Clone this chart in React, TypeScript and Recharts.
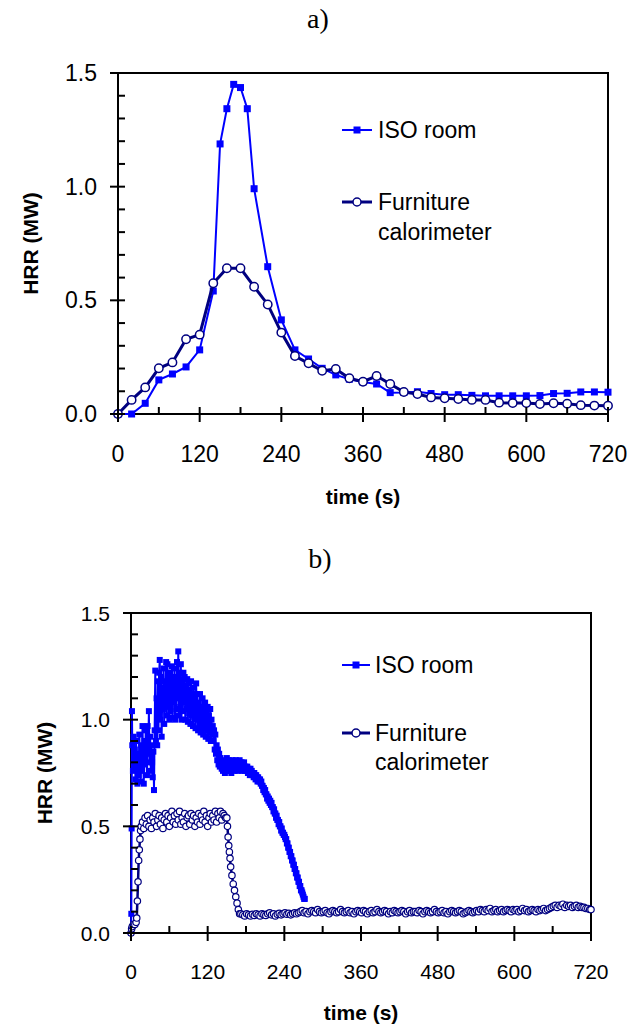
import React from 'react';
import { ComposedChart, Scatter, XAxis, YAxis, ReferenceArea, Legend, Label } from 'recharts';

const FONT = '"Liberation Sans", Arial, sans-serif';
const ISO_BLUE = '#0000ff';
const NAVY = '#000080';

const xTicks = [0, 60, 120, 180, 240, 300, 360, 420, 480, 540, 600, 660, 720];
const yTicks = [0, 0.1, 0.2, 0.3, 0.4, 0.5, 0.6, 0.7, 0.8, 0.9, 1.0, 1.1, 1.2, 1.3, 1.4, 1.5];

// ---- a) ----
const isoTimeA = [0, 20, 40, 60, 80, 100, 120, 140, 150, 160, 170, 180, 190, 200, 220, 240, 260, 280, 300, 320,
  340, 360, 380, 400, 420, 440, 460, 480, 500, 520, 540, 560, 580, 600, 620, 640, 660, 680, 700, 720];
const isoHrrA = [0, 0, 0.047, 0.15, 0.176, 0.207, 0.282, 0.541, 1.188, 1.343, 1.45, 1.436, 1.343, 0.991, 0.648, 0.414,
  0.282, 0.242, 0.201, 0.172, 0.153, 0.141, 0.132, 0.094, 0.095, 0.098, 0.09, 0.085, 0.085, 0.082, 0.08, 0.08, 0.08,
  0.08, 0.081, 0.09, 0.091, 0.097, 0.097, 0.096];

const furnTimeA = [0, 20, 40, 60, 80, 100, 120, 140, 160, 180, 200, 220, 240, 260, 280, 300, 320, 340, 360, 380,
  400, 420, 440, 460, 480, 500, 520, 540, 560, 580, 600, 620, 640, 660, 680, 700, 720];
const furnHrrA = [0, 0.062, 0.117, 0.201, 0.227, 0.329, 0.349, 0.575, 0.641, 0.641, 0.56, 0.482, 0.358, 0.255, 0.223,
  0.19, 0.198, 0.157, 0.142, 0.167, 0.132, 0.097, 0.088, 0.073, 0.069, 0.066, 0.062, 0.062, 0.05, 0.048, 0.048, 0.044,
  0.047, 0.045, 0.039, 0.037, 0.036];

// ---- b) ----
// ISO room: first sub-second samples, then 1 s samples from 2 s to 272 s
const isoStartTimeB = [0, 0.5, 1, 1.5];
const isoStartHrrB = [0, 0.09, 0.49, 1.04];
const isoRestStartB = 2;
const isoRestHrrB = [
  // 2 - 140 s
  0.88, 0.76, 0.92, 0.80, 0.86, 0.72, 0.90, 0.78, 0.70, 0.84, 0.74, 0.93, 0.80, 0.71, 0.88, 0.76, 0.97, 0.82, 0.70,
  0.90, 0.79, 0.95, 0.84, 0.74, 0.97, 0.86, 1.04, 0.80, 0.92, 0.76, 0.88, 0.80, 0.73, 0.85, 0.67, 0.95, 1.23, 0.90,
  1.10, 0.88, 1.18, 0.95, 1.22, 1.28, 1.00, 1.20, 0.92, 1.15, 1.05, 1.24, 0.98, 1.18, 1.08, 1.27, 1.02, 1.26, 1.06,
  1.20, 1.00, 1.22, 1.04, 1.18, 1.25, 1.01, 1.16, 1.08, 1.24, 1.00, 1.20, 1.05, 1.27, 1.10, 1.32, 1.02, 1.22, 1.06,
  1.26, 1.00, 1.18, 1.04, 1.22, 1.08, 1.20, 1.00, 1.16, 1.05, 1.19, 0.99, 1.17, 1.03, 1.14, 0.98, 1.18, 1.02, 1.12,
  0.97, 1.15, 1.01, 1.10, 0.96, 1.17, 1.00, 1.12, 0.95, 1.08, 0.98, 1.12, 0.94, 1.06, 0.96, 1.10, 0.93, 1.05, 0.97,
  1.08, 0.92, 1.04, 0.95, 1.06, 0.91, 1.02, 0.94, 1.05, 0.90, 1.00, 0.93, 0.97, 0.90, 0.95, 0.86, 0.93, 0.84, 0.88,
  0.81, 0.86, 0.79, 0.84, 0.78, 0.82,
  // 141 - 180 s
  0.79, 0.77, 0.80, 0.76, 0.81, 0.78, 0.75, 0.80, 0.77, 0.82, 0.76, 0.79, 0.81, 0.76, 0.78, 0.80, 0.75, 0.79, 0.81,
  0.77, 0.80, 0.76, 0.78, 0.81, 0.77, 0.79, 0.76, 0.80, 0.78, 0.81, 0.77, 0.79, 0.80, 0.76, 0.79, 0.77, 0.80, 0.76,
  0.78, 0.77,
  // 181 - 200 s
  0.76, 0.78, 0.75, 0.77, 0.76, 0.74, 0.77, 0.75, 0.76, 0.74, 0.75, 0.73, 0.75, 0.74, 0.72, 0.74, 0.73, 0.71, 0.73,
  0.72,
  // 201 - 240 s
  0.71, 0.72, 0.70, 0.71, 0.69, 0.69, 0.67, 0.68, 0.66, 0.67, 0.65, 0.65, 0.63, 0.64, 0.62, 0.63, 0.61, 0.62, 0.60,
  0.61, 0.59, 0.59, 0.57, 0.58, 0.56, 0.56, 0.54, 0.55, 0.53, 0.53, 0.51, 0.52, 0.50, 0.50, 0.48, 0.49, 0.47, 0.47,
  0.46, 0.46,
  // 241 - 272 s
  0.45, 0.44, 0.44, 0.42, 0.42, 0.40, 0.40, 0.38, 0.38, 0.36, 0.36, 0.34, 0.34, 0.32, 0.32, 0.30, 0.30, 0.28, 0.28,
  0.26, 0.26, 0.24, 0.24, 0.22, 0.22, 0.20, 0.20, 0.19, 0.18, 0.17, 0.16, 0.16,
];

// furniture calorimeter: ignition rise, plateau (2 s), drop, tail (3 s)
const furnRiseTimeB = [0, 1, 2, 4, 6, 8, 9, 10, 11, 12, 13, 14, 15, 16];
const furnRiseHrrB = [0, 0.02, 0.03, 0.04, 0.04, 0.05, 0.07, 0.15, 0.24, 0.34, 0.39, 0.44, 0.48, 0.50];
const furnPlateauStartB = 18;
const furnPlateauHrrB = [
  0.52, 0.49, 0.54, 0.51, 0.55, 0.50, 0.53, 0.49, 0.54, 0.52, 0.56, 0.50, 0.53, 0.55, 0.51, 0.54, 0.49, 0.53, 0.56,
  0.52, 0.55, 0.50, 0.54, 0.57, 0.52, 0.55, 0.51, 0.56, 0.53, 0.57, 0.51, 0.54, 0.52, 0.56, 0.50, 0.54, 0.55, 0.51,
  0.56, 0.53, 0.55, 0.50, 0.54, 0.52, 0.56, 0.51, 0.55, 0.53, 0.57, 0.52, 0.55, 0.50, 0.54, 0.56, 0.52, 0.55, 0.53,
  0.57, 0.52, 0.56, 0.54, 0.57, 0.53, 0.56, 0.55, 0.54,
];
const furnDropTimeB = [150, 151, 152, 153, 154, 155, 156, 158, 160, 162, 164, 166, 168, 170];
const furnDropHrrB = [0.54, 0.50, 0.45, 0.41, 0.38, 0.35, 0.31, 0.27, 0.23, 0.20, 0.17, 0.14, 0.11, 0.09];
const furnTailStartB = 172;
const furnTailHrrB = [
  0.09, 0.085, 0.08, 0.09, 0.085, 0.08, 0.088, 0.082, 0.09, 0.085, 0.08, 0.09, 0.086, 0.082, 0.09, 0.095, 0.085, 0.09,
  0.08, 0.088, 0.092, 0.085, 0.09, 0.095, 0.088, 0.092, 0.085, 0.09, 0.095, 0.09,
  0.095, 0.10, 0.105, 0.095, 0.10, 0.09, 0.10, 0.105, 0.10, 0.095, 0.11, 0.10, 0.095, 0.10, 0.105, 0.095, 0.09, 0.10,
  0.105, 0.10, 0.095, 0.10, 0.11, 0.10, 0.095, 0.10, 0.105, 0.095, 0.10, 0.09, 0.10, 0.105, 0.10, 0.095, 0.105, 0.10,
  0.09, 0.10, 0.105, 0.095, 0.10, 0.11, 0.10, 0.095, 0.10, 0.105, 0.10, 0.09, 0.10, 0.095, 0.105, 0.10, 0.095, 0.10,
  0.105, 0.10, 0.09, 0.10, 0.105, 0.095, 0.10, 0.10, 0.095, 0.105, 0.10, 0.09, 0.10, 0.105, 0.10, 0.095, 0.10, 0.11,
  0.10, 0.095, 0.10, 0.105, 0.095, 0.10, 0.09, 0.10, 0.105, 0.10, 0.095, 0.10, 0.105, 0.10, 0.09, 0.095, 0.10, 0.105,
  0.10, 0.095, 0.10, 0.105,
  0.10, 0.11, 0.105, 0.10, 0.11, 0.105, 0.115, 0.10, 0.105, 0.11, 0.10, 0.105, 0.11, 0.10, 0.105, 0.11, 0.105, 0.10,
  0.11, 0.105, 0.11, 0.10, 0.105, 0.115, 0.105, 0.11, 0.10, 0.105, 0.11, 0.105, 0.10, 0.11, 0.105, 0.11, 0.115, 0.105,
  0.11, 0.115,
  0.12, 0.125, 0.13, 0.12, 0.13, 0.125, 0.135, 0.12, 0.13, 0.125, 0.13, 0.12, 0.125, 0.13, 0.12, 0.125, 0.12,
  0.12, 0.115, 0.115, 0.11,
];
const furnEndTimeB = [720];
const furnEndHrrB = [0.11];

const toPoints = (times: number[], values: number[]) => times.map((t, i) => ({ t, v: values[i] }));
const stepPoints = (start: number, step: number, values: number[]) =>
  values.map((v, i) => ({ t: start + i * step, v }));

const isoDataA = toPoints(isoTimeA, isoHrrA);
const furnDataA = toPoints(furnTimeA, furnHrrA);

const isoDataB = [...toPoints(isoStartTimeB, isoStartHrrB), ...stepPoints(isoRestStartB, 1, isoRestHrrB)];
const furnDataB = [
  ...toPoints(furnRiseTimeB, furnRiseHrrB),
  ...stepPoints(furnPlateauStartB, 2, furnPlateauHrrB),
  ...toPoints(furnDropTimeB, furnDropHrrB),
  ...stepPoints(furnTailStartB, 3, furnTailHrrB),
  ...toPoints(furnEndTimeB, furnEndHrrB),
];

// ticks: majors cross the axis and carry a label, minors point inward only
const makeXTick = (labelDy: number, fontSize: number) => (props: any) => {
  const { x, y, payload } = props;
  const major = payload.value % 120 === 0;
  return (
    <g>
      <line x1={x} x2={x} y1={y - 7} y2={major ? y + 8 : y} stroke="#000" strokeWidth={2} />
      {major && (
        <text x={x} y={y + labelDy} textAnchor="middle" dominantBaseline="central" fontFamily={FONT} fontSize={fontSize} fill="#000">
          {payload.value}
        </text>
      )}
    </g>
  );
};

const makeYTick = (fontSize: number) => (props: any) => {
  const { x, y, payload } = props;
  const major = Math.round(payload.value * 10) % 5 === 0;
  return (
    <g>
      <line x1={major ? x - 8 : x} x2={x + 7} y1={y} y2={y} stroke="#000" strokeWidth={2} />
      {major && (
        <text x={x - 21} y={y} textAnchor="end" dominantBaseline="central" fontFamily={FONT} fontSize={fontSize} fill="#000">
          {payload.value.toFixed(1)}
        </text>
      )}
    </g>
  );
};

const xTitle = (dy: number) => (props: any) => {
  const vb = props.viewBox || {};
  return (
    <text x={vb.x + vb.width / 2} y={vb.y + dy} textAnchor="middle" dominantBaseline="central" fontFamily={FONT} fontWeight="bold" fontSize={21} fill="#000">
      time (s)
    </text>
  );
};

const yTitle = (cx: number) => (props: any) => {
  const vb = props.viewBox || {};
  const cy = vb.y + vb.height / 2;
  return (
    <text x={cx} y={cy} transform={`rotate(-90 ${cx} ${cy})`} textAnchor="middle" dominantBaseline="central" fontFamily={FONT} fontWeight="bold" fontSize={21} fill="#000">
      HRR (MW)
    </text>
  );
};

const square = (size: number) => (props: any) => (
  <rect x={props.cx - size / 2} y={props.cy - size / 2} width={size} height={size} fill={ISO_BLUE} />
);
const ring = (r: number, sw: number) => (props: any) => (
  <circle cx={props.cx} cy={props.cy} r={r} fill="#fff" stroke={NAVY} strokeWidth={sw} />
);

const makeLegend = (lineLen: number, textX: number, isoY: number, furnY: number, gap: number) => () => (
  <svg width={280} height={160} style={{ display: 'block' }}>
    <line x1={12} x2={12 + lineLen} y1={isoY} y2={isoY} stroke={ISO_BLUE} strokeWidth={2} />
    <rect x={12 + lineLen / 2 - 3.5} y={isoY - 3.5} width={7} height={7} fill={ISO_BLUE} />
    <text x={textX} y={isoY} dominantBaseline="central" fontFamily={FONT} fontSize={23} fill="#000">ISO room</text>
    <line x1={12} x2={12 + lineLen} y1={furnY} y2={furnY} stroke={NAVY} strokeWidth={3} />
    <circle cx={12 + lineLen / 2} cy={furnY} r={4} fill="#fff" stroke={NAVY} strokeWidth={1.5} />
    <text x={textX} y={furnY} dominantBaseline="central" fontFamily={FONT} fontSize={23} fill="#000">Furniture</text>
    <text x={textX} y={furnY + gap} dominantBaseline="central" fontFamily={FONT} fontSize={23} fill="#000">calorimeter</text>
  </svg>
);

const panelTitle = (text: string, cy: number, cx: number) => (
  <div style={{ position: 'absolute', top: cy - 15, left: cx - 40, width: 80, textAlign: 'center', fontFamily: '"Liberation Serif", "Times New Roman", serif', fontSize: 28, lineHeight: '30px', color: '#000' }}>
    {text}
  </div>
);

export default function App() {
  return (
    <div style={{ position: 'absolute', left: 0, top: 0, width: 627, height: 1024, background: '#fff', overflow: 'hidden' }}>
      {panelTitle('a)', 19, 318)}
      {panelTitle('b)', 559, 320)}

      <div style={{ position: 'absolute', left: 0, top: 0 }}>
        <ComposedChart width={627} height={540} margin={{ top: 73, right: 19, bottom: 0, left: 0 }}>
          <XAxis type="number" dataKey="t" domain={[0, 720]} ticks={xTicks} interval={0} height={126}
            tickSize={0} tickMargin={0} tickLine={false} axisLine={{ stroke: '#000', strokeWidth: 2 }} tick={makeXTick(40, 23)}>
            <Label content={xTitle(82)} />
          </XAxis>
          <YAxis type="number" dataKey="v" domain={[0, 1.5]} ticks={yTicks} interval={0} width={118}
            tickSize={0} tickMargin={0} tickLine={false} axisLine={{ stroke: '#000', strokeWidth: 2 }} tick={makeYTick(23)}>
            <Label content={yTitle(30)} />
          </YAxis>
          <ReferenceArea x1={0} x2={720} y1={0} y2={1.5} fill="none" stroke="#000" strokeWidth={2} />
          <Scatter name="ISO room" data={isoDataA} line={{ stroke: ISO_BLUE, strokeWidth: 2 }} shape={square(7)} isAnimationActive={false} />
          <Scatter name="Furniture calorimeter" data={furnDataA} line={{ stroke: NAVY, strokeWidth: 3 }} shape={ring(4.2, 1.5)} isAnimationActive={false} />
          <Legend layout="horizontal" verticalAlign="middle" align="center" content={makeLegend(30, 48, 30, 102, 30)}
            wrapperStyle={{ left: 330, top: 100, width: 280, height: 160 }} />
        </ComposedChart>
      </div>

      <div style={{ position: 'absolute', left: 0, top: 540 }}>
        <ComposedChart width={627} height={484} margin={{ top: 73, right: 36, bottom: 0, left: 0 }}>
          <XAxis type="number" dataKey="t" domain={[0, 720]} ticks={xTicks} interval={0} height={91}
            tickSize={0} tickMargin={0} tickLine={false} axisLine={{ stroke: '#000', strokeWidth: 2 }} tick={makeXTick(38, 21)}>
            <Label content={xTitle(79)} />
          </XAxis>
          <YAxis type="number" dataKey="v" domain={[0, 1.5]} ticks={yTicks} interval={0} width={131}
            tickSize={0} tickMargin={0} tickLine={false} axisLine={{ stroke: '#000', strokeWidth: 2 }} tick={makeYTick(21)}>
            <Label content={yTitle(44)} />
          </YAxis>
          <ReferenceArea x1={0} x2={720} y1={0} y2={1.5} fill="none" stroke="#000" strokeWidth={2} />
          <Scatter name="ISO room" data={isoDataB} line={{ stroke: ISO_BLUE, strokeWidth: 2 }} shape={square(6)} isAnimationActive={false} />
          <Scatter name="Furniture calorimeter" data={furnDataB} line={{ stroke: NAVY, strokeWidth: 2.5 }} shape={ring(3.2, 1.2)} isAnimationActive={false} />
          <Legend layout="horizontal" verticalAlign="middle" align="center" content={makeLegend(28, 45, 25, 93, 29)}
            wrapperStyle={{ left: 330, top: 100, width: 280, height: 160 }} />
        </ComposedChart>
      </div>
    </div>
  );
}
